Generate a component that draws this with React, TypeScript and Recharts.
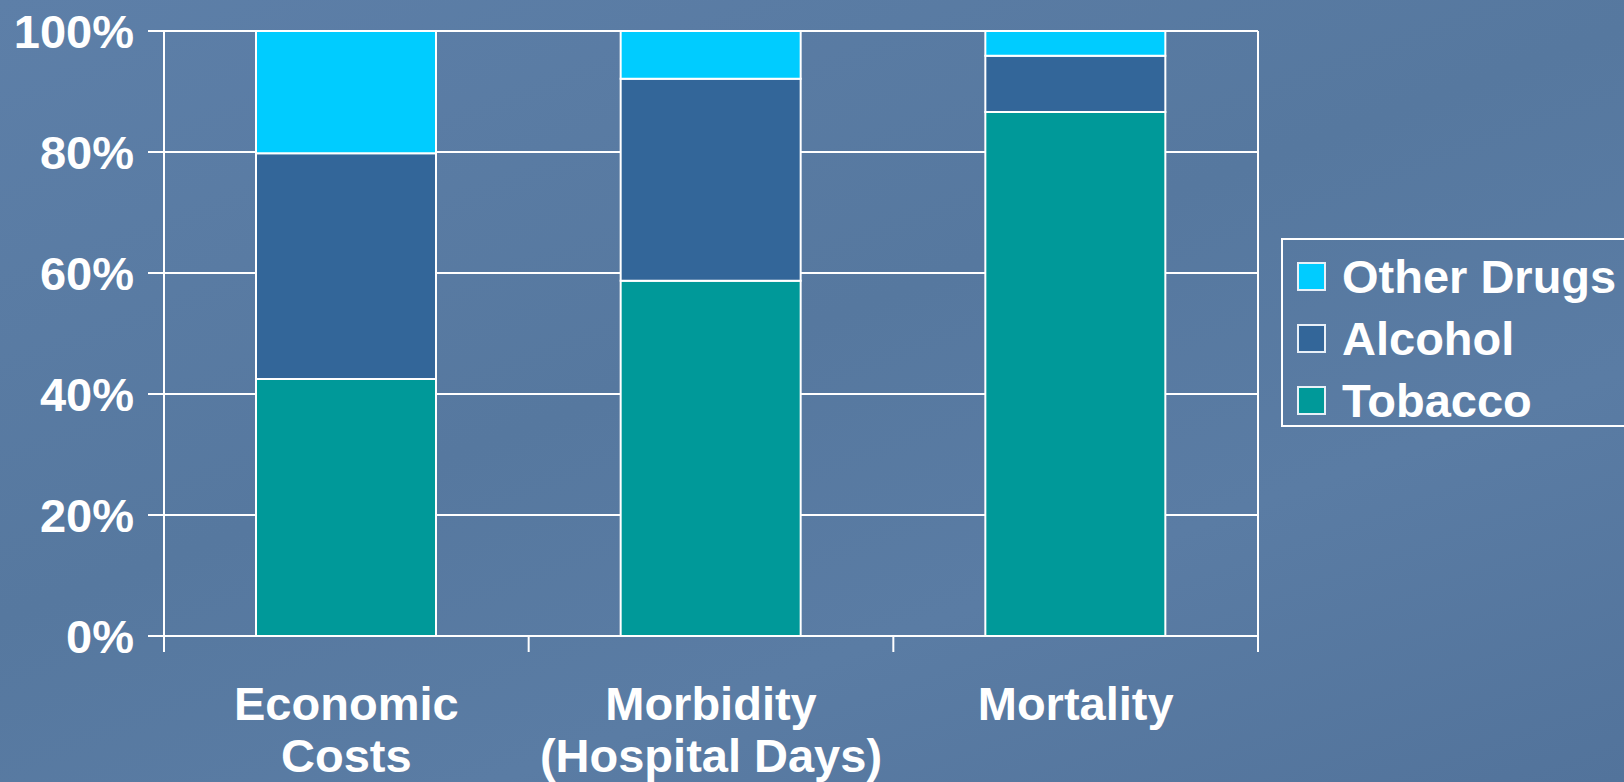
import { BarChart, Bar, XAxis, YAxis, CartesianGrid } from "recharts"

const categories = ["Economic\nCosts", "Morbidity\n(Hospital Days)", "Mortality"]
const tobacco = [42.5, 58.7, 86.6]
const alcohol = [37.3, 33.4, 9.3]
const otherDrugs = [20.2, 7.9, 4.1]
const yTicks = [0, 20, 40, 60, 80, 100]

const seriesInfo = [
  { key: "other", name: "Other Drugs", color: "#00CCFF" },
  { key: "alcohol", name: "Alcohol", color: "#336699" },
  { key: "tobacco", name: "Tobacco", color: "#009999" },
]

const data = categories.map((name, i) => ({
  name,
  tobacco: tobacco[i],
  alcohol: alcohol[i],
  other: otherDrugs[i],
}))

const FONT = "'Liberation Sans', Arial, sans-serif"
const PLOT_W = 1094
const TICK = 16

function XTick(props: any) {
  const { x, y, payload, index } = props
  const band = PLOT_W / categories.length
  const axisY = y - TICK
  const lines = String(payload.value).split("\n")
  return (
    <g>
      <line x1={x - band / 2} x2={x - band / 2} y1={axisY} y2={axisY + TICK} stroke="#fff" strokeWidth={2} />
      {index === categories.length - 1 && (
        <line x1={x + band / 2} x2={x + band / 2} y1={axisY} y2={axisY + TICK} stroke="#fff" strokeWidth={2} />
      )}
      <text textAnchor="middle" fill="#fff" fontSize={47} fontWeight="bold" fontFamily={FONT}>
        {lines.map((l, i) => (
          <tspan key={i} x={x} y={y + 68 + i * 52}>
            {l}
          </tspan>
        ))}
      </text>
    </g>
  )
}

// legend drawn as an overlay so it doesn't shrink the plot area
function LegendBox() {
  return (
    <div
      style={{
        position: "absolute",
        left: 1281,
        top: 238,
        width: 360,
        height: 189,
        border: "2px solid #fff",
        borderRight: "none",
        boxSizing: "border-box",
        paddingTop: 5,
        paddingLeft: 14,
        fontFamily: FONT,
        fontWeight: "bold",
        fontSize: 47,
        color: "#fff",
        lineHeight: 1,
      }}
    >
      {seriesInfo.map((s) => (
        <div key={s.key} style={{ display: "flex", alignItems: "center", height: 62 }}>
          <div
            style={{
              width: 29,
              height: 29,
              boxSizing: "border-box",
              background: s.color,
              border: "2px solid #e8f0f8",
              marginRight: 16,
            }}
          />
          <span style={{ whiteSpace: "nowrap" }}>{s.name}</span>
        </div>
      ))}
    </div>
  )
}

export default function App() {
  return (
    <div
      style={{
        position: "fixed",
        left: 0,
        top: 0,
        width: 1624,
        height: 782,
        background: "linear-gradient(160deg, #5d7fa8 0%, #56789f 45%, #5a7ca4 70%, #52739b 100%)",
        overflow: "hidden",
      }}
    >
      <BarChart width={1624} height={782} data={data} margin={{ top: 31, right: 0, left: 0, bottom: 0 }}>
        <CartesianGrid vertical={false} stroke="#fff" strokeWidth={2} strokeOpacity={1} />
        <XAxis
          dataKey="name"
          height={146}
          axisLine={{ stroke: "#fff", strokeWidth: 2 }}
          tickLine={false}
          tickSize={TICK}
          tickMargin={0}
          interval={0}
          tick={<XTick />}
        />
        <YAxis
          width={164}
          domain={[0, 100]}
          ticks={yTicks}
          tickFormatter={(v) => `${v}%`}
          axisLine={{ stroke: "#fff", strokeWidth: 2 }}
          tickLine={{ stroke: "#fff", strokeWidth: 2 }}
          tickSize={TICK}
          tickMargin={14}
          tick={{ fill: "#fff", fontSize: 47, fontWeight: "bold", fontFamily: FONT }}
        />
        <YAxis
          yAxisId="right"
          orientation="right"
          width={366}
          domain={[0, 100]}
          tick={false}
          tickLine={false}
          axisLine={{ stroke: "#fff", strokeWidth: 2 }}
        />
        <Bar dataKey="tobacco" name="Tobacco" stackId="a" fill="#009999" stroke="#fff" strokeWidth={2} barSize={180} isAnimationActive={false} />
        <Bar dataKey="alcohol" name="Alcohol" stackId="a" fill="#336699" stroke="#fff" strokeWidth={2} barSize={180} isAnimationActive={false} />
        <Bar dataKey="other" name="Other Drugs" stackId="a" fill="#00CCFF" stroke="#fff" strokeWidth={2} barSize={180} isAnimationActive={false} />
      </BarChart>
      <LegendBox />
    </div>
  )
}
